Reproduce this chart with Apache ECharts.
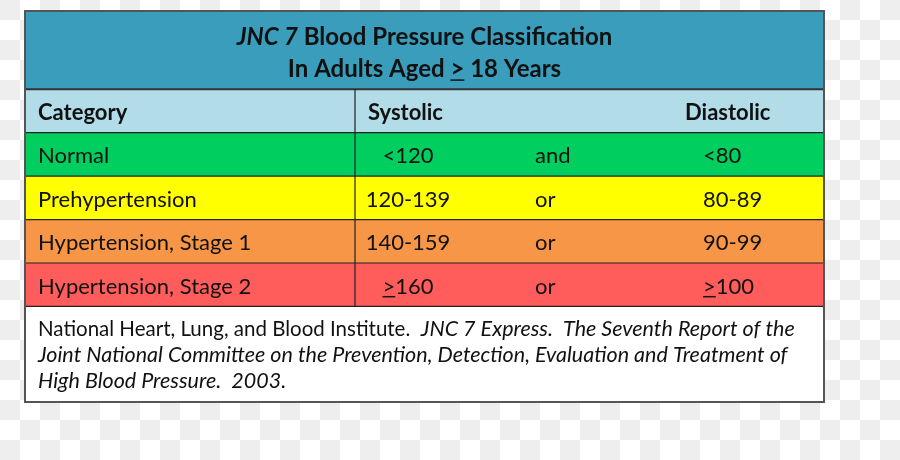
<!DOCTYPE html>
<html>
<head>
<meta charset="utf-8">
<script src="https://cdn.jsdelivr.net/npm/echarts@6/dist/echarts.min.js"></script>
<style>
  html, body { margin: 0; padding: 0; background: #fff; }
  #chart { width: 900px; height: 460px; }
</style>
</head>
<body>
<div id="chart"></div>
<script>
// table content (a leading '>' is printed underlined, i.e. "at least")
const titleItalic = 'JNC 7';
const titleRest = ' Blood Pressure Classification';
const titleLine2 = 'In Adults Aged > 18 Years';
const headers = ['Category', 'Systolic', 'Diastolic'];
const categories = ['Normal', 'Prehypertension', 'Hypertension, Stage 1', 'Hypertension, Stage 2'];
const systolic = ['<120', '120-139', '140-159', '>160'];
const joiners = ['and', 'or', 'or', 'or'];
const diastolic = ['<80', '80-89', '90-99', '>100'];
const sourceLead = 'National Heart, Lung, and Blood Institute.  ';
const sourceItalic = [
  'JNC 7 Express.  The Seventh Report of the',
  'Joint National Committee on the Prevention, Detection, Evaluation and Treatment of',
  'High Blood Pressure.  2003.'
];

// layout in axis units (x: 0..799, y: 0..9 rows)
const X_MAX = 799;
const COL_SPLIT = 330;
const TEXT_PAD = 13;
const SYS_CENTER = 383;
const JOIN_X = 510;
const DIA_HEAD_X = 660;
const DIA_X = 678;
const TITLE_END = 1.8;
const HEAD_END = 2.8;
const ROWS_END = 6.8;
const Y_MAX = 9;

const rowColors = ['#00cf60', '#ffff00', '#f79647', '#ff5c5c'];
const FAMILY = 'Lato, "Open Sans", sans-serif';
const CELL_FONT = '22px ' + FAMILY;
const HEAD_FONT = 'bold 22px ' + FAMILY;
const TITLE_FONT = 'bold 24px ' + FAMILY;
const TITLE_IT_FONT = 'italic bold 24px ' + FAMILY;
const INK = '#111';
const NUDGE = 2;

const chart = echarts.init(document.getElementById('chart'), null, { renderer: 'canvas' });

// checkered backdrop
const tile = document.createElement('canvas');
tile.width = 40;
tile.height = 40;
const tctx = tile.getContext('2d');
tctx.fillStyle = '#ffffff';
tctx.fillRect(0, 0, 40, 40);
tctx.fillStyle = '#eeeeee';
tctx.fillRect(0, 0, 20, 20);
tctx.fillRect(20, 20, 20, 20);

const mctx = document.createElement('canvas').getContext('2d');
function measure(str, font) {
  mctx.font = font;
  return mctx.measureText(str).width;
}

function underline(x, y, str, font) {
  return {
    type: 'line',
    shape: { x1: x, y1: y, x2: x + measure(str, font), y2: y },
    style: { stroke: INK, lineWidth: 1.5 }
  };
}

// text cell, with the underline under a leading '>'
function cell(x, y, str, font, align) {
  const out = [{
    type: 'text',
    x: x,
    y: y,
    style: { text: str, fill: INK, font: font, align: align || 'left', verticalAlign: 'middle' }
  }];
  if (str.charAt(0) === '>') {
    const left = align === 'center' ? x - measure(str, font) / 2 : x;
    out.push(underline(left, y + 10, '>', font));
  }
  return out;
}

function band(api, y0, y1, color) {
  const p0 = api.coord([0, y0]);
  const p1 = api.coord([X_MAX, y1]);
  return {
    type: 'rect',
    shape: { x: p0[0], y: p0[1], width: p1[0] - p0[0], height: p1[1] - p0[1] },
    style: { fill: color }
  };
}

function hline(api, y, color, width) {
  const p0 = api.coord([0, y]);
  const p1 = api.coord([X_MAX, y]);
  return {
    type: 'line',
    shape: { x1: p0[0], y1: p0[1], x2: p1[0], y2: p1[1] },
    style: { stroke: color, lineWidth: width }
  };
}

const option = {
  backgroundColor: { image: tile, repeat: 'repeat' },
  animation: false,
  grid: { left: 25, right: 76, top: 11, bottom: 58 },
  xAxis: { type: 'value', min: 0, max: X_MAX, show: false },
  yAxis: { type: 'value', min: 0, max: Y_MAX, inverse: true, show: false },
  series: [
    {
      name: 'title',
      type: 'custom',
      data: [[0]],
      renderItem: function (params, api) {
        const mid = api.coord([X_MAX / 2, TITLE_END / 2]);
        const y1 = mid[1] - 15 + NUDGE;
        const y2 = mid[1] + 17 + NUDGE;
        const w2 = measure(titleLine2, TITLE_FONT);
        const gtX = mid[0] - w2 / 2 + measure('In Adults Aged ', TITLE_FONT);
        return {
          type: 'group',
          children: [
            band(api, 0, TITLE_END, '#3a9dbb'),
            {
              type: 'text',
              x: mid[0],
              y: y1,
              style: {
                text: '{i|' + titleItalic + '}{b|' + titleRest + '}',
                align: 'center',
                verticalAlign: 'middle',
                rich: {
                  i: { font: TITLE_IT_FONT, fill: INK },
                  b: { font: TITLE_FONT, fill: INK }
                }
              }
            },
            {
              type: 'text',
              x: mid[0],
              y: y2,
              style: { text: titleLine2, font: TITLE_FONT, fill: INK, align: 'center', verticalAlign: 'middle' }
            },
            underline(gtX, y2 + 11, '>', TITLE_FONT)
          ]
        };
      }
    },
    {
      name: 'header',
      type: 'custom',
      data: [headers],
      renderItem: function (params, api) {
        const ym = api.coord([0, (TITLE_END + HEAD_END) / 2])[1] + NUDGE;
        return {
          type: 'group',
          children: []
            .concat(band(api, TITLE_END, HEAD_END, '#b1dce8'))
            .concat(cell(api.coord([TEXT_PAD, 0])[0], ym, headers[0], HEAD_FONT))
            .concat(cell(api.coord([COL_SPLIT + TEXT_PAD, 0])[0], ym, headers[1], HEAD_FONT))
            .concat(cell(api.coord([DIA_HEAD_X, 0])[0], ym, headers[2], HEAD_FONT))
        };
      }
    },
    {
      name: 'rows',
      type: 'custom',
      data: categories.map(function (c, i) { return [i]; }),
      renderItem: function (params, api) {
        const i = params.dataIndex;
        const top = HEAD_END + api.value(0);
        const ym = api.coord([0, top + 0.5])[1] + NUDGE;
        return {
          type: 'group',
          children: []
            .concat(band(api, top, top + 1, rowColors[i]))
            .concat(cell(api.coord([TEXT_PAD, 0])[0], ym, categories[i], CELL_FONT))
            .concat(cell(api.coord([SYS_CENTER, 0])[0], ym, systolic[i], CELL_FONT, 'center'))
            .concat(cell(api.coord([JOIN_X, 0])[0], ym, joiners[i], CELL_FONT))
            .concat(cell(api.coord([DIA_X, 0])[0], ym, diastolic[i], CELL_FONT))
        };
      }
    },
    {
      name: 'source',
      type: 'custom',
      data: [[0]],
      renderItem: function (params, api) {
        const x = api.coord([TEXT_PAD, 0])[0];
        const ym = api.coord([0, (ROWS_END + Y_MAX) / 2])[1] + 1;
        return {
          type: 'group',
          children: [
            band(api, ROWS_END, Y_MAX, '#ffffff'),
            {
              type: 'text',
              x: x,
              y: ym,
              style: {
                text: '{n|' + sourceLead + '}{i|' + sourceItalic[0] + '}\n{i|' + sourceItalic[1] + '}\n{i|' + sourceItalic[2] + '}',
                align: 'left',
                verticalAlign: 'middle',
                rich: {
                  n: { font: '20.5px ' + FAMILY, fill: INK, lineHeight: 26 },
                  i: { font: 'italic 21.5px ' + FAMILY, fill: INK, lineHeight: 26 }
                }
              }
            }
          ]
        };
      }
    },
    {
      name: 'rules',
      type: 'custom',
      data: [[0]],
      z: 5,
      renderItem: function (params, api) {
        const children = [];
        children.push(hline(api, TITLE_END, '#333', 2));
        children.push(hline(api, HEAD_END, '#222', 1.2));
        for (let k = 1; k <= categories.length; k++) {
          children.push(hline(api, HEAD_END + k, '#222', 1.2));
        }
        const v0 = api.coord([COL_SPLIT, TITLE_END]);
        const v1 = api.coord([COL_SPLIT, ROWS_END]);
        children.push({
          type: 'line',
          shape: { x1: v0[0], y1: v0[1], x2: v1[0], y2: v1[1] },
          style: { stroke: '#222', lineWidth: 1.2 }
        });
        const a = api.coord([0, 0]);
        const b = api.coord([X_MAX, Y_MAX]);
        children.push({
          type: 'rect',
          shape: { x: a[0], y: a[1], width: b[0] - a[0], height: b[1] - a[1] },
          style: { fill: null, stroke: '#555', lineWidth: 2 }
        });
        return { type: 'group', children: children };
      }
    }
  ]
};

chart.setOption(option);
</script>
</body>
</html>
